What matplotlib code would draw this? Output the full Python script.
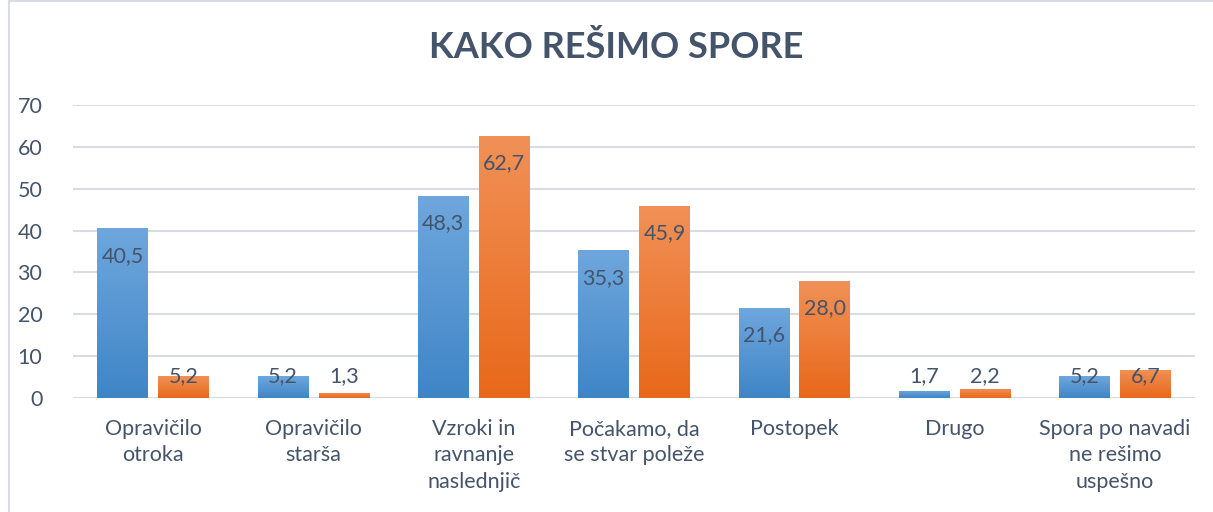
import numpy as np
import matplotlib.pyplot as plt
from matplotlib.colors import LinearSegmentedColormap
from matplotlib.lines import Line2D

categories = ["Opravičilo\notroka", "Opravičilo\nstarša", "Vzroki in\nravnanje\nnaslednjič",
              "Počakamo, da\nse stvar poleže", "Postopek", "Drugo",
              "Spora po navadi\nne rešimo\nuspešno"]
series_a = [40.5, 5.2, 48.3, 35.3, 21.6, 1.7, 5.2]
series_b = [5.2, 1.3, 62.7, 45.9, 28.0, 2.2, 6.7]
labels_a = ["40,5", "5,2", "48,3", "35,3", "21,6", "1,7", "5,2"]
labels_b = ["5,2", "1,3", "62,7", "45,9", "28,0", "2,2", "6,7"]

plt.rcParams['font.family'] = ['Lato', 'DejaVu Sans']
text_col = '#44546a'
grid_col = '#d9dde3'
fs = 15.5

fig = plt.figure(figsize=(12.13, 5.12), dpi=100)
ax = fig.add_axes([73 / 1213, 1 - 398 / 512, (1195 - 73) / 1213, (398 - 105) / 512])

x = np.arange(len(categories))
w = 0.315
off = 0.19

cmap_a = LinearSegmentedColormap.from_list('a', ['#3f85c6', '#6fa7dd'])
cmap_b = LinearSegmentedColormap.from_list('b', ['#e8681a', '#f19157'])
grad = np.linspace(0, 1, 256).reshape(-1, 1)

for vals, labs, dx, cmap in [(series_a, labels_a, -off, cmap_a), (series_b, labels_b, off, cmap_b)]:
    bars = ax.bar(x + dx, vals, w, color='none', edgecolor='none', zorder=2)
    for b, v, lab in zip(bars, vals, labs):
        x0, y0 = b.get_x(), b.get_y()
        im = ax.imshow(grad, cmap=cmap, origin='lower', aspect='auto',
                       extent=[x0, x0 + b.get_width(), y0, y0 + b.get_height()], zorder=2)
        im.set_clip_path(b)
        ax.text(b.get_x() + b.get_width() / 2, max(v - 6.6, 5.3), lab, ha='center', va='center',
                fontsize=fs, color=text_col, zorder=3)

ax.set_xlim(-0.5, len(categories) - 0.5)
ax.set_ylim(0, 70)
ax.set_yticks(range(0, 71, 10))
ax.set_xticks(x)
ax.set_xticklabels(categories, fontsize=fs, color=text_col, linespacing=1.4, va='top')
ax.tick_params(axis='x', length=0, pad=15)
ax.tick_params(axis='y', length=0, pad=22, labelsize=fs, labelcolor=text_col)
ax.grid(axis='y', color=grid_col, linewidth=1.5, zorder=0)
ax.set_axisbelow(True)
for s in ax.spines.values():
    s.set_visible(False)

fig.text(616 / 1213, 1 - 48 / 512, "KAKO REŠIMO SPORE", ha='center', va='center',
         fontsize=26, fontweight='bold', color=text_col)

# outer frame
fig.add_artist(Line2D([8.5 / 1213, 8.5 / 1213], [0, 1], color=grid_col, lw=1.5))
fig.add_artist(Line2D([8.5 / 1213, 1], [1 - 0.5 / 512, 1 - 0.5 / 512], color=grid_col, lw=1.5))

fig.savefig("out.png", dpi=100)
